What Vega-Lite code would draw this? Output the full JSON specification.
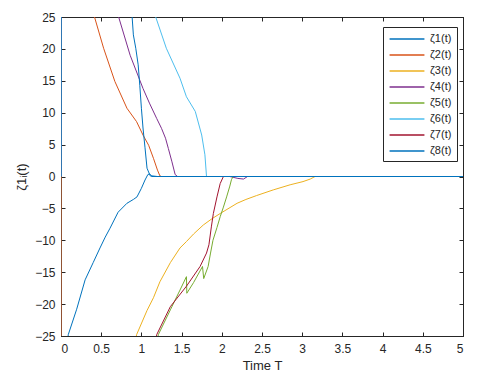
{
  "$schema": "https://vega.github.io/schema/vega-lite/v6.json",
  "width": 402,
  "height": 319,
  "autosize": "none",
  "padding": {"left": 61, "top": 17, "right": 40, "bottom": 47},
  "background": "white",
  "config": {
    "view": {"stroke": "#262626", "strokeWidth": 1},
    "font": "Liberation Sans",
    "axis": {"grid": false, "domainColor": "#262626", "tickColor": "#262626", "labelColor": "#262626", "titleColor": "#262626", "labelFontSize": 12, "titleFontSize": 13, "titleFontWeight": "normal", "labelFont": "Liberation Sans", "titleFont": "Liberation Sans"}
  },
  "data": {"values": [
    {"s":"ζ1(t)","t":0,"v":0},{"s":"ζ1(t)","t":0.001,"v":-60},{"s":"ζ1(t)","t":0.07,"v":-28},{"s":"ζ1(t)","t":0.09,"v":-24.8},{"s":"ζ1(t)","t":0.195,"v":-20.8},{"s":"ζ1(t)","t":0.3,"v":-16.2},{"s":"ζ1(t)","t":0.4,"v":-13.5},{"s":"ζ1(t)","t":0.485,"v":-11.2},{"s":"ζ1(t)","t":0.55,"v":-9.5},{"s":"ζ1(t)","t":0.61,"v":-8.1},{"s":"ζ1(t)","t":0.71,"v":-5.6},{"s":"ζ1(t)","t":0.82,"v":-4.2},{"s":"ζ1(t)","t":0.9,"v":-3.6},{"s":"ζ1(t)","t":0.945,"v":-3.2},{"s":"ζ1(t)","t":1.0,"v":-1.85},{"s":"ζ1(t)","t":1.045,"v":-0.55},{"s":"ζ1(t)","t":1.08,"v":0.3},{"s":"ζ1(t)","t":1.1,"v":0.4},{"s":"ζ1(t)","t":1.13,"v":0.1},{"s":"ζ1(t)","t":1.2,"v":0},{"s":"ζ1(t)","t":5,"v":0},
    {"s":"ζ2(t)","t":0,"v":0},{"s":"ζ2(t)","t":0.001,"v":60},{"s":"ζ2(t)","t":0.38,"v":28},{"s":"ζ2(t)","t":0.41,"v":25.3},{"s":"ζ2(t)","t":0.53,"v":20.1},{"s":"ζ2(t)","t":0.67,"v":14.9},{"s":"ζ2(t)","t":0.82,"v":10.7},{"s":"ζ2(t)","t":0.94,"v":8.6},{"s":"ζ2(t)","t":1.02,"v":6.5},{"s":"ζ2(t)","t":1.09,"v":4.9},{"s":"ζ2(t)","t":1.15,"v":2.85},{"s":"ζ2(t)","t":1.2,"v":1.0},{"s":"ζ2(t)","t":1.23,"v":0.1},{"s":"ζ2(t)","t":1.25,"v":0},{"s":"ζ2(t)","t":5,"v":0},
    {"s":"ζ3(t)","t":0,"v":0},{"s":"ζ3(t)","t":0.001,"v":-60},{"s":"ζ3(t)","t":0.9,"v":-28},{"s":"ζ3(t)","t":0.94,"v":-24.8},{"s":"ζ3(t)","t":1.07,"v":-21},{"s":"ζ3(t)","t":1.15,"v":-19},{"s":"ζ3(t)","t":1.23,"v":-16.5},{"s":"ζ3(t)","t":1.36,"v":-13.5},{"s":"ζ3(t)","t":1.48,"v":-11.2},{"s":"ζ3(t)","t":1.56,"v":-10.2},{"s":"ζ3(t)","t":1.65,"v":-9},{"s":"ζ3(t)","t":1.77,"v":-7.6},{"s":"ζ3(t)","t":1.88,"v":-6.6},{"s":"ζ3(t)","t":1.98,"v":-5.8},{"s":"ζ3(t)","t":2.19,"v":-4.2},{"s":"ζ3(t)","t":2.3,"v":-3.6},{"s":"ζ3(t)","t":2.43,"v":-3.0},{"s":"ζ3(t)","t":2.64,"v":-2.1},{"s":"ζ3(t)","t":2.85,"v":-1.3},{"s":"ζ3(t)","t":3.01,"v":-0.8},{"s":"ζ3(t)","t":3.1,"v":-0.4},{"s":"ζ3(t)","t":3.16,"v":0},{"s":"ζ3(t)","t":5,"v":0},
    {"s":"ζ4(t)","t":0,"v":0},{"s":"ζ4(t)","t":0.001,"v":60},{"s":"ζ4(t)","t":0.68,"v":28},{"s":"ζ4(t)","t":0.71,"v":25.3},{"s":"ζ4(t)","t":0.86,"v":19.0},{"s":"ζ4(t)","t":1.02,"v":13.8},{"s":"ζ4(t)","t":1.1,"v":11.5},{"s":"ζ4(t)","t":1.19,"v":9.1},{"s":"ζ4(t)","t":1.25,"v":7.55},{"s":"ζ4(t)","t":1.3,"v":6},{"s":"ζ4(t)","t":1.335,"v":4.4},{"s":"ζ4(t)","t":1.38,"v":2.3},{"s":"ζ4(t)","t":1.42,"v":0.3},{"s":"ζ4(t)","t":1.45,"v":0},{"s":"ζ4(t)","t":2.1,"v":0},{"s":"ζ4(t)","t":2.2,"v":-0.3},{"s":"ζ4(t)","t":2.27,"v":-0.4},{"s":"ζ4(t)","t":2.32,"v":0},{"s":"ζ4(t)","t":5,"v":0},
    {"s":"ζ5(t)","t":0,"v":0},{"s":"ζ5(t)","t":0.001,"v":-60},{"s":"ζ5(t)","t":1.18,"v":-28},{"s":"ζ5(t)","t":1.21,"v":-24.8},{"s":"ζ5(t)","t":1.36,"v":-20.9},{"s":"ζ5(t)","t":1.48,"v":-17.8},{"s":"ζ5(t)","t":1.56,"v":-15.7},{"s":"ζ5(t)","t":1.565,"v":-18.3},{"s":"ζ5(t)","t":1.65,"v":-16.6},{"s":"ζ5(t)","t":1.76,"v":-14.1},{"s":"ζ5(t)","t":1.775,"v":-16.0},{"s":"ζ5(t)","t":1.83,"v":-14.1},{"s":"ζ5(t)","t":1.86,"v":-12},{"s":"ζ5(t)","t":1.89,"v":-10.0},{"s":"ζ5(t)","t":1.94,"v":-8},{"s":"ζ5(t)","t":1.98,"v":-6.3},{"s":"ζ5(t)","t":2.02,"v":-4.8},{"s":"ζ5(t)","t":2.06,"v":-3.2},{"s":"ζ5(t)","t":2.1,"v":-1.5},{"s":"ζ5(t)","t":2.12,"v":-0.5},{"s":"ζ5(t)","t":2.14,"v":0},{"s":"ζ5(t)","t":5,"v":0},
    {"s":"ζ6(t)","t":0,"v":0},{"s":"ζ6(t)","t":0.001,"v":60},{"s":"ζ6(t)","t":1.14,"v":28},{"s":"ζ6(t)","t":1.17,"v":25.3},{"s":"ζ6(t)","t":1.31,"v":20.1},{"s":"ζ6(t)","t":1.48,"v":15.4},{"s":"ζ6(t)","t":1.56,"v":12.5},{"s":"ζ6(t)","t":1.67,"v":10.2},{"s":"ζ6(t)","t":1.75,"v":6.5},{"s":"ζ6(t)","t":1.79,"v":3.4},{"s":"ζ6(t)","t":1.81,"v":0},{"s":"ζ6(t)","t":5,"v":0},
    {"s":"ζ7(t)","t":0,"v":0},{"s":"ζ7(t)","t":0.001,"v":-60},{"s":"ζ7(t)","t":1.16,"v":-28},{"s":"ζ7(t)","t":1.19,"v":-24.8},{"s":"ζ7(t)","t":1.36,"v":-20.4},{"s":"ζ7(t)","t":1.56,"v":-17.2},{"s":"ζ7(t)","t":1.73,"v":-14.1},{"s":"ζ7(t)","t":1.81,"v":-12.0},{"s":"ζ7(t)","t":1.84,"v":-10.7},{"s":"ζ7(t)","t":1.87,"v":-7.9},{"s":"ζ7(t)","t":1.895,"v":-5.8},{"s":"ζ7(t)","t":1.94,"v":-3.2},{"s":"ζ7(t)","t":1.98,"v":-1.1},{"s":"ζ7(t)","t":2.02,"v":0},{"s":"ζ7(t)","t":5,"v":0},
    {"s":"ζ8(t)","t":0,"v":0},{"s":"ζ8(t)","t":0.001,"v":60},{"s":"ζ8(t)","t":0.86,"v":28},{"s":"ζ8(t)","t":0.883,"v":25.3},{"s":"ζ8(t)","t":0.9,"v":22.2},{"s":"ζ8(t)","t":0.93,"v":20.1},{"s":"ζ8(t)","t":0.96,"v":17.5},{"s":"ζ8(t)","t":0.98,"v":14.3},{"s":"ζ8(t)","t":1.0,"v":10.7},{"s":"ζ8(t)","t":1.02,"v":7.6},{"s":"ζ8(t)","t":1.045,"v":4.5},{"s":"ζ8(t)","t":1.07,"v":1.3},{"s":"ζ8(t)","t":1.11,"v":0.1},{"s":"ζ8(t)","t":1.13,"v":0},{"s":"ζ8(t)","t":5,"v":0}
  ]},
  "layer": [
    {
      "mark": {"type": "line", "clip": true, "strokeWidth": 1},
      "encoding": {
        "x": {"field": "t", "type": "quantitative", "scale": {"domain": [0, 5], "nice": false, "zero": false}, "axis": {"values": [0,0.5,1,1.5,2,2.5,3,3.5,4,4.5,5], "format": "~g", "tickSize": -4, "labelPadding": 11, "title": "Time T", "titlePadding": 5}},
        "y": {"field": "v", "type": "quantitative", "scale": {"domain": [-25, 25], "nice": false, "zero": false}, "axis": {"values": [-25,-20,-15,-10,-5,0,5,10,15,20,25], "tickSize": -4, "labelPadding": 10, "title": "ζ1ᵢ(t)", "titlePadding": 6}},
        "color": {"field": "s", "type": "nominal", "scale": {"domain": ["ζ1(t)","ζ2(t)","ζ3(t)","ζ4(t)","ζ5(t)","ζ6(t)","ζ7(t)","ζ8(t)"], "range": ["#0072BD","#D95319","#EDB120","#7E2F8E","#77AC30","#4DBEEE","#A2142F","#0072BD"]},
          "legend": {"title": null, "orient": "none", "legendX": 322, "legendY": 10, "symbolType": "M-3,0H3", "symbolSize": 135, "symbolOffset": 12, "symbolStrokeWidth": 1.5, "labelFontSize": 11, "labelFont": "Liberation Sans", "labelColor": "#262626", "labelOffset": 16, "strokeColor": "#262626", "fillColor": "white", "padding": 5, "rowPadding": 4}}
      }
    },
    {
      "mark": {"type": "point", "opacity": 0},
      "encoding": {
        "x": {"field": "t", "type": "quantitative", "axis": {"orient": "top", "values": [0,0.5,1,1.5,2,2.5,3,3.5,4,4.5,5], "labels": false, "title": null, "tickSize": -4}},
        "y": {"field": "v", "type": "quantitative", "axis": {"orient": "right", "values": [-25,-20,-15,-10,-5,0,5,10,15,20,25], "labels": false, "title": null, "tickSize": -4}}
      }
    }
  ],
  "resolve": {"axis": {"x": "independent", "y": "independent"}}
}
